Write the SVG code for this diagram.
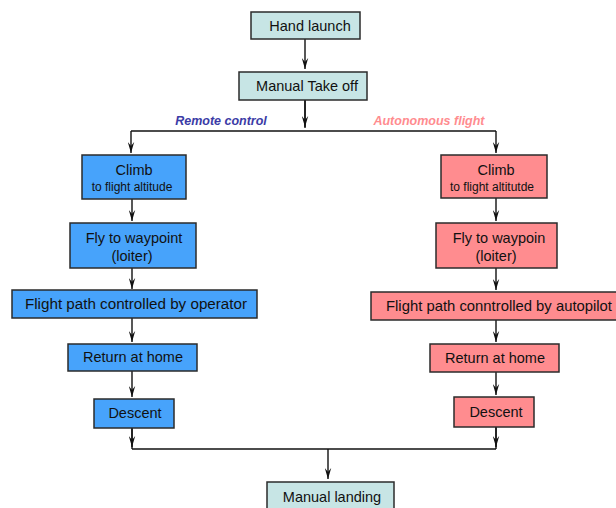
<svg xmlns="http://www.w3.org/2000/svg" width="616" height="508" viewBox="0 0 616 508">
<style>
.box{stroke:#2b2b2b;stroke-width:1.5}
.cyan{fill:#c7e5e5}
.blue{fill:#47a3fb}
.pink{fill:#ff8c8f}
text{font-family:"Liberation Sans",Arial,sans-serif;font-size:14.5px;fill:#111;text-anchor:middle}
.small{font-size:12px}
.wide{font-size:15.2px}
.lbl{font-size:12.5px;font-weight:bold;font-style:italic}
.conn{stroke:#111;stroke-width:1.4;fill:none}
</style>
<defs>
<marker id="arr" viewBox="0 0 11 7" refX="11" refY="3.5" markerWidth="11" markerHeight="7" markerUnits="userSpaceOnUse" orient="auto">
<path d="M0,0.3 L11,3.5 L0,6.7 L4,3.5 Z" fill="#111"/>
</marker>
</defs>
<rect x="0" y="0" width="616" height="508" fill="#ffffff"/>
<g id="connectors">
<path class="conn" d="M305,39 V69" marker-end="url(#arr)"/>
<path class="conn" d="M305,100 V128"/>
<path class="conn" d="M305,100 V127" marker-end="url(#arr)"/>
<path class="conn" d="M131,131 H496"/>
<path class="conn" d="M131,131 V153" marker-end="url(#arr)"/>
<path class="conn" d="M496,131 V153" marker-end="url(#arr)"/>
<path class="conn" d="M132,199 V221" marker-end="url(#arr)"/>
<path class="conn" d="M132,268 V289" marker-end="url(#arr)"/>
<path class="conn" d="M132,318 V342" marker-end="url(#arr)"/>
<path class="conn" d="M132,371 V397" marker-end="url(#arr)"/>
<path class="conn" d="M132,428 V449"/>
<path class="conn" d="M132,428 V447" marker-end="url(#arr)"/>
<path class="conn" d="M496,198 V221" marker-end="url(#arr)"/>
<path class="conn" d="M496,268 V290" marker-end="url(#arr)"/>
<path class="conn" d="M496,320 V342" marker-end="url(#arr)"/>
<path class="conn" d="M496,372 V395" marker-end="url(#arr)"/>
<path class="conn" d="M496,427 V449"/>
<path class="conn" d="M496,427 V447" marker-end="url(#arr)"/>
<path class="conn" d="M132,449 H496"/>
<path class="conn" d="M328,449 V479" marker-end="url(#arr)"/>
</g>
<g id="label-remote"><text class="lbl" x="221" y="125" style="fill:#3b3ba6">Remote control</text></g>
<g id="label-auto"><text class="lbl" x="429" y="125" style="fill:#ff8c8f">Autonomous flight</text></g>
<g id="hand-launch"><rect class="box cyan" x="251" y="12" width="109" height="27"/><text x="310" y="31">Hand launch</text></g>
<g id="manual-takeoff"><rect class="box cyan" x="239" y="72" width="128" height="28"/><text x="307" y="91">Manual Take off</text></g>
<g id="climb-l"><rect class="box blue" x="82" y="155" width="104" height="44"/><text x="134" y="175">Climb</text><text class="small" x="132" y="191">to flight altitude</text></g>
<g id="fly-l"><rect class="box blue" x="70" y="223" width="126" height="45"/><text x="134" y="243">Fly to waypoint</text><text x="132" y="261">(loiter)</text></g>
<g id="path-l"><rect class="box blue" x="12" y="290" width="245" height="28"/><text class="wide" x="136" y="309">Flight path controlled by operator</text></g>
<g id="return-l"><rect class="box blue" x="68" y="344" width="129" height="27"/><text x="133" y="362">Return at home</text></g>
<g id="descent-l"><rect class="box blue" x="94" y="399" width="80" height="29"/><text x="135" y="418">Descent</text></g>
<g id="climb-r"><rect class="box pink" x="441" y="155" width="106" height="43"/><text x="496" y="175">Climb</text><text class="small" x="492" y="191">to flight altitutde</text></g>
<g id="fly-r"><rect class="box pink" x="436" y="223" width="121" height="45"/><text x="499" y="243">Fly to waypoin</text><text x="496" y="261">(loiter)</text></g>
<g id="path-r"><rect class="box pink" x="371" y="292" width="260" height="28"/><text x="386" y="311" style="text-anchor:start;font-size:14.8px" textLength="226" lengthAdjust="spacingAndGlyphs">Flight path conntrolled by autopilot</text></g>
<g id="return-r"><rect class="box pink" x="430" y="344" width="129" height="28"/><text x="495" y="363">Return at home</text></g>
<g id="descent-r"><rect class="box pink" x="454" y="397" width="80" height="30"/><text x="496" y="417">Descent</text></g>
<g id="manual-landing"><rect class="box cyan" x="267" y="482" width="127" height="32"/><text x="332" y="502">Manual landing</text></g>
</svg>
